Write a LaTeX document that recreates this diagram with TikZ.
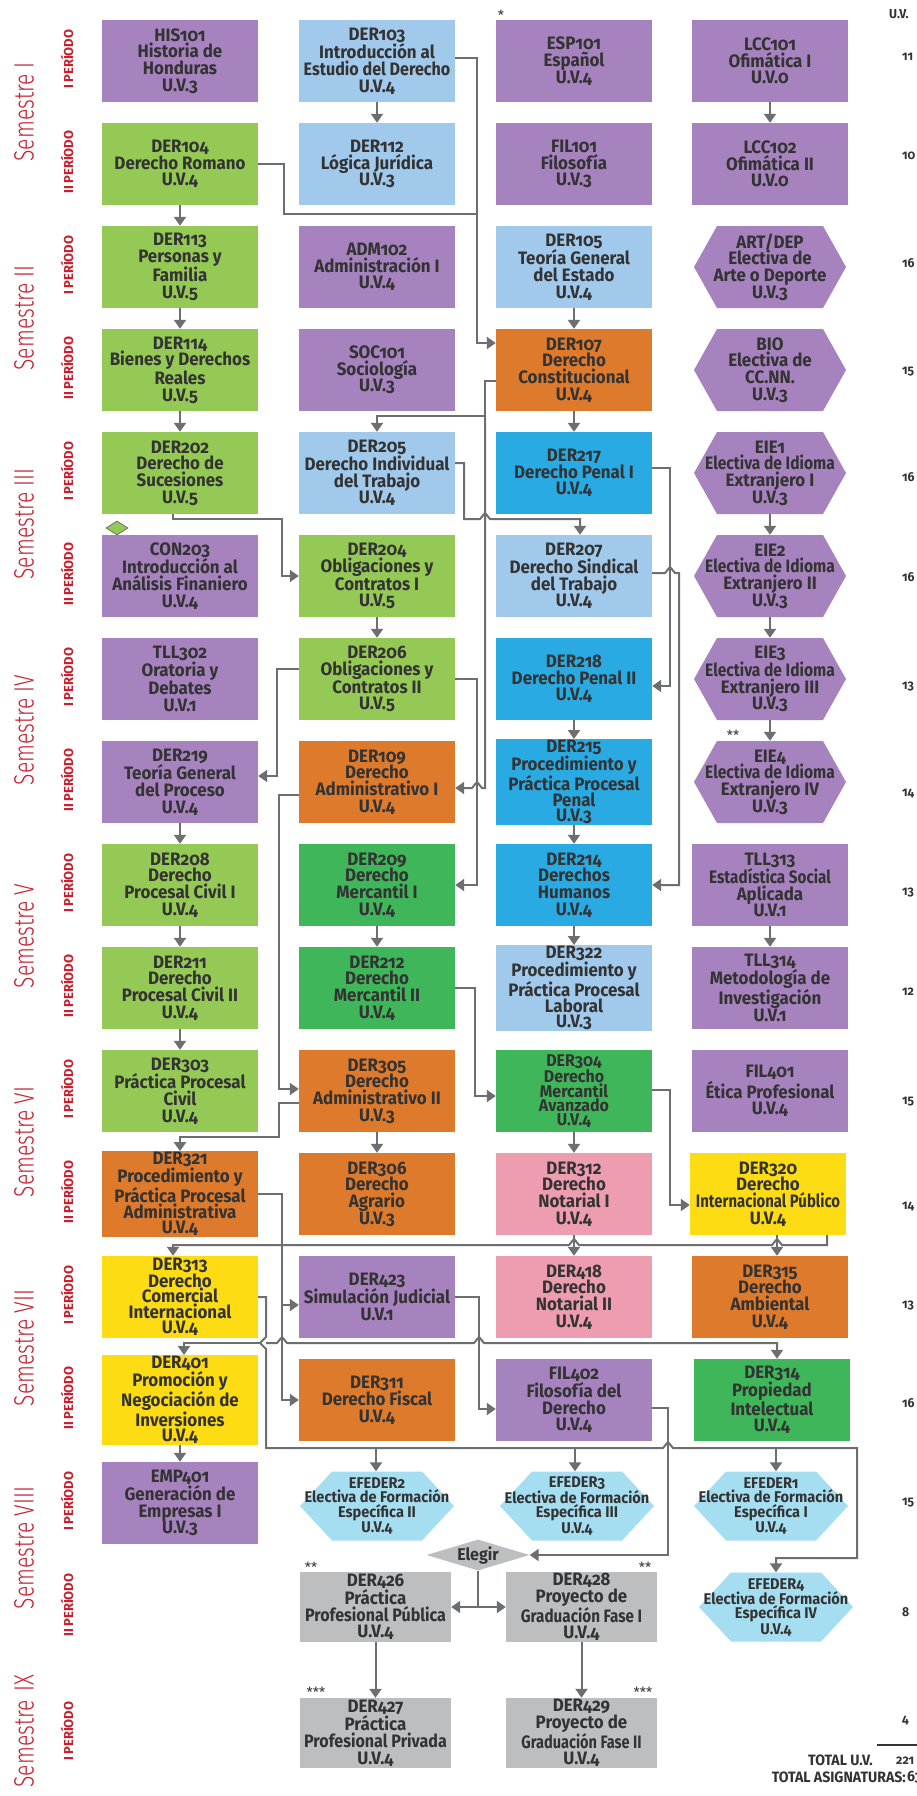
\documentclass[tikz,border=0pt]{standalone}
\usepackage{fontspec}
\usepackage{graphicx}
\usetikzlibrary{arrows.meta,shapes.geometric}
\newfontfamily\boxfont{Fira Sans}[FakeStretch=0.94,Numbers=OldStyle]
\newfontfamily\perfont{Fira Sans}
\newfontfamily\semfont{Fira Sans Light}[FakeStretch=0.75]
\newcommand{\narrowtext}[2]{\scalebox{#1}[1]{#2}}
\definecolor{lila}{HTML}{A682BE}
\definecolor{verdeclaro}{HTML}{95C955}
\definecolor{celeste}{HTML}{A0C9EC}
\definecolor{naranja}{HTML}{DE7A2B}
\definecolor{azul}{HTML}{2AAAE2}
\definecolor{verde}{HTML}{3FB65A}
\definecolor{rosa}{HTML}{EE9DB1}
\definecolor{amarillo}{HTML}{FEDC13}
\definecolor{gris}{HTML}{BDBEC0}
\definecolor{turquesa}{HTML}{A5DEF1}
\definecolor{linea}{HTML}{6D6E71}
\definecolor{rojo}{HTML}{C8202F}
\definecolor{texto}{HTML}{333333}
\tikzset{
  hexfill/.style 2 args={path picture={\fill[#1] ([xshift=#2]path picture bounding box.north west) -- ([xshift=-#2]path picture bounding box.north east) -- (path picture bounding box.east) -- ([xshift=-#2]path picture bounding box.south east) -- ([xshift=#2]path picture bounding box.south west) -- (path picture bounding box.west) -- cycle;}}
}
\begin{document}
\begin{tikzpicture}[x=1pt,y=-1pt,
    course/.style={fill=#1,minimum width=156pt,minimum height=82pt,inner sep=1pt,align=center,text=texto,font=\boxfont\bfseries\fontsize{18}{16.7}\selectfont},
    tight/.style={font=\boxfont\bfseries\fontsize{18}{15.5}\selectfont},
    hexa/.style={course=none,minimum width=152pt,hexfill={lila}{23pt}},
    efhex/.style={course=none,minimum width=154pt,minimum height=69pt,hexfill={turquesa}{32pt},font=\boxfont\bfseries\fontsize{15.5}{12.3}\selectfont},
    grisbox/.style={course=gris,minimum width=151pt,minimum height=70pt},
    semlabel/.style={rotate=90,inner sep=0pt,text=rojo,font=\semfont\fontsize{28}{28}\selectfont},
    perlabel/.style={rotate=90,inner sep=0pt,text=rojo,font=\perfont\bfseries\fontsize{13}{13}\selectfont},
    uvnum/.style={anchor=west,inner sep=0pt,text=texto,font=\boxfont\bfseries\fontsize{13}{13}\selectfont},
    note/.style={inner sep=0pt,text=texto,font=\perfont\fontsize{14}{14}\selectfont},
    link/.style={draw=linea,line width=2pt,-{Triangle[width=12pt,length=9pt]}},
    wire/.style={draw=linea,line width=2pt}]
  \path[use as bounding box,fill=white] (0,0) rectangle (916,1796);

  % Semester and period labels
  \foreach \y/\s in {112/I,318/II,524/III,730/IV,936/V,1142/VI,1348/VII,1548/VIII}
    \node[semlabel] (sem\s) at (24,\y) {Semestre \s};
  \node[semlabel] (semIX) at (24,1731) {Semestre\hspace{9pt}IX};
  \foreach \y/\p [count=\i] in {61/I,164/II,267/I,370/II,473/I,576/II,679/I,782/II,885/I,988/II,1091/I,1194/II,1297/I,1400/II,1503/I,1607/II,1733/I}
    \node[perlabel] (per\i) at (67,\y-2) {\p\,PERÍODO};

  % Row 1 and 2
  \node[course=lila] (his101) at (180,61) {HIS101\\Historia de\\Honduras\\U.V.3};
  \node[course=celeste] (der103) at (377,61) {DER103\\Introducción al\\\narrowtext{0.95}{Estudio del Derecho}\\U.V.4};
  \node[course=lila] (esp101) at (574,61) {ESP101\\Español\\U.V.4};
  \node[course=lila] (lcc101) at (770,61) {LCC101\\Ofimática I\\U.V.0};
  \node[course=verdeclaro] (der104) at (180,164) {DER104\\Derecho Romano\\U.V.4};
  \node[course=celeste] (der112) at (377,164) {DER112\\Lógica Jurídica\\U.V.3};
  \node[course=lila] (fil101) at (574,164) {FIL101\\Filosofía\\U.V.3};
  \node[course=lila] (lcc102) at (770,164) {LCC102\\Ofimática II\\U.V.0};
  % Row 3 and 4
  \node[course=verdeclaro] (der113) at (180,267) {DER113\\Personas y\\Familia\\U.V.5};
  \node[course=lila] (adm102) at (377,267) {ADM102\\Administración I\\U.V.4};
  \node[course=celeste] (der105) at (574,267) {DER105\\Teoría General\\del Estado\\U.V.4};
  \node[hexa] (artdep) at (770,267) {ART/DEP\\Electiva de\\Arte o Deporte\\U.V.3};
  \node[course=verdeclaro] (der114) at (180,370) {DER114\\Bienes y Derechos\\Reales\\U.V.5};
  \node[course=lila] (soc101) at (377,370) {SOC101\\Sociología\\U.V.3};
  \node[course=naranja] (der107) at (574,370) {DER107\\Derecho\\Constitucional\\U.V.4};
  \node[hexa] (bio) at (770,370) {BIO\\Electiva de\\CC.NN.\\U.V.3};
  % Row 5 and 6
  \node[course=verdeclaro] (der202) at (180,473) {DER202\\Derecho de\\Sucesiones\\U.V.5};
  \node[course=celeste] (der205) at (377,473) {DER205\\Derecho Individual\\del Trabajo\\U.V.4};
  \node[course=azul] (der217) at (574,473) {DER217\\Derecho Penal I\\U.V.4};
  \node[hexa] (eie1) at (770,473) {EIE1\\\narrowtext{0.92}{Electiva de Idioma}\\Extranjero I\\U.V.3};
  \node[course=lila] (con203) at (180,576) {CON203\\Introducción al\\Análisis Finaniero\\U.V.4};
  \node[course=verdeclaro] (der204) at (377,576) {DER204\\Obligaciones y\\Contratos I\\U.V.5};
  \node[course=celeste] (der207) at (574,576) {DER207\\Derecho Sindical\\del Trabajo\\U.V.4};
  \node[hexa] (eie2) at (770,576) {EIE2\\\narrowtext{0.92}{Electiva de Idioma}\\Extranjero II\\U.V.3};
  % Row 7 and 8
  \node[course=lila] (tll302) at (180,679) {TLL302\\Oratoria y\\Debates\\U.V.1};
  \node[course=verdeclaro] (der206) at (377,679) {DER206\\Obligaciones y\\Contratos II\\U.V.5};
  \node[course=azul] (der218) at (574,679) {DER218\\Derecho Penal II\\U.V.4};
  \node[hexa] (eie3) at (770,679) {EIE3\\\narrowtext{0.92}{Electiva de Idioma}\\Extranjero III\\U.V.3};
  \node[course=lila] (der219) at (180,782) {DER219\\Teoría General\\del Proceso\\U.V.4};
  \node[course=naranja] (der109) at (377,782) {DER109\\Derecho\\Administrativo I\\U.V.4};
  \node[course=azul,tight] (der215) at (574,782) {DER215\\Procedimiento y\\Práctica Procesal\\Penal\\U.V.3};
  \node[hexa] (eie4) at (770,782) {EIE4\\\narrowtext{0.92}{Electiva de Idioma}\\Extranjero IV\\U.V.3};
  % Row 9 and 10
  \node[course=verdeclaro] (der208) at (180,885) {DER208\\Derecho\\Procesal Civil I\\U.V.4};
  \node[course=verde] (der209) at (377,885) {DER209\\Derecho\\Mercantil I\\U.V.4};
  \node[course=azul] (der214) at (574,885) {DER214\\Derechos\\Humanos\\U.V.4};
  \node[course=lila] (tll313) at (770,885) {TLL313\\\narrowtext{0.9}{Estadística Social}\\Aplicada\\U.V.1};
  \node[course=verdeclaro] (der211) at (180,988) {DER211\\Derecho\\Procesal Civil II\\U.V.4};
  \node[course=verde] (der212) at (377,988) {DER212\\Derecho\\Mercantil II\\U.V.4};
  \node[course=celeste,tight] (der322) at (574,988) {DER322\\Procedimiento y\\Práctica Procesal\\Laboral\\U.V.3};
  \node[course=lila] (tll314) at (770,988) {TLL314\\Metodología de\\Investigación\\U.V.1};
  % Row 11 and 12
  \node[course=verdeclaro] (der303) at (180,1091) {DER303\\Práctica Procesal\\Civil\\U.V.4};
  \node[course=naranja] (der305) at (377,1091) {DER305\\Derecho\\Administrativo II\\U.V.3};
  \node[course=verde,font=\boxfont\bfseries\fontsize{17}{14}\selectfont] (der304) at (574,1091) {DER304\\Derecho\\Mercantil\\Avanzado\\U.V.4};
  \node[course=lila] (fil401) at (770,1091) {FIL401\\Ética Profesional\\U.V.4};
  \node[course=naranja,tight] (der321) at (180,1194) {DER321\\Procedimiento y\\Práctica Procesal\\Administrativa\\U.V.4};
  \node[course=naranja] (der306) at (377,1194) {DER306\\Derecho\\Agrario\\U.V.3};
  \node[course=rosa] (der312) at (574,1194) {DER312\\Derecho\\Notarial I\\U.V.4};
  \node[course=amarillo] (der320) at (768,1194) {DER320\\Derecho\\\narrowtext{0.88}{Internacional Público}\\U.V.4};
  % Row 13 and 14
  \node[course=amarillo,tight] (der313) at (180,1297) {DER313\\Derecho\\Comercial\\Internacional\\U.V.4};
  \node[course=lila] (der423) at (377,1297) {DER423\\Simulación Judicial\\U.V.1};
  \node[course=rosa] (der418) at (574,1297) {DER418\\Derecho\\Notarial II\\U.V.4};
  \node[course=naranja] (der315) at (770,1297) {DER315\\Derecho\\Ambiental\\U.V.4};
  \node[course=amarillo,tight] (der401) at (180,1400) {DER401\\Promoción y\\Negociación de\\Inversiones\\U.V.4};
  \node[course=naranja] (der311) at (377,1400) {DER311\\Derecho Fiscal\\U.V.4};
  \node[course=lila] (fil402) at (574,1400) {FIL402\\Filosofía del\\Derecho\\U.V.4};
  \node[course=verde] (der314) at (772,1400) {DER314\\Propiedad\\Intelectual\\U.V.4};
  % Row 15 to 17
  \node[course=lila] (emp401) at (180,1503) {EMP401\\Generación de\\Empresas I\\U.V.3};
  \node[efhex] (efeder2) at (377,1506) {EFEDER2\\Electiva de Formación\\Específica II\\U.V.4};
  \node[efhex] (efeder3) at (577,1506) {EFEDER3\\Electiva de Formación\\Específica III\\U.V.4};
  \node[efhex] (efeder1) at (771,1506) {EFEDER1\\Electiva de Formación\\Específica I\\U.V.4};
  \node[diamond,fill=gris,aspect=3.3,inner sep=0pt,minimum width=103pt,minimum height=31pt,text=texto,font=\boxfont\bfseries\fontsize{17}{17}\selectfont] (elegir) at (478,1555) {Elegir};
  \node[grisbox] (der426) at (375.5,1607) {DER426\\Práctica\\\narrowtext{0.95}{Profesional Pública}\\U.V.4};
  \node[grisbox] (der428) at (581.5,1607) {DER428\\Proyecto de\\\narrowtext{0.9}{Graduación Fase I}\\U.V.4};
  \node[efhex] (efeder4) at (776,1607) {EFEDER4\\Electiva de Formación\\Específica IV\\U.V.4};
  \node[grisbox] (der427) at (375.5,1733) {DER427\\Práctica\\\narrowtext{0.95}{Profesional Privada}\\U.V.4};
  \node[grisbox] (der429) at (581.5,1733) {DER429\\Proyecto de\\\narrowtext{0.86}{Graduación Fase II}\\U.V.4};

  % Marks
  \node[diamond,fill=verdeclaro,draw=linea,line width=0.8pt,aspect=1.6,inner sep=0pt,minimum width=22pt,minimum height=14pt] (mark203) at (117,528) {};
  \node[note] (star1) at (501,15) {*};
  \node[note] (star2) at (733,735) {**};
  \node[note] (star3) at (311,1567) {**};
  \node[note] (star4) at (645,1567) {**};
  \node[note] (star5) at (316,1692) {***};
  \node[note] (star6) at (643,1692) {***};

  % U.V. per period
  \node[uvnum] (uvhead) at (889,14) {U.V.};
  \foreach \y/\n [count=\i] in {57/11,156/10,263/16,372/15,477/16,577/16,687/13,793/14,893/13,992/12,1102/15,1206/14,1306/13,1403/16,1503/15,1612/8,1720/4}
    \node[uvnum] (uv\i) at (902,\y) {\n};
  \draw[line width=2pt,texto] (877,1745) -- (920,1745);
  \node[anchor=east,inner sep=0pt,text=texto,font=\boxfont\bfseries\fontsize{15}{15}\selectfont] (totuv) at (873,1760) {TOTAL U.V.};
  \node[uvnum] (sumuv) at (896,1761) {221};
  \node[anchor=east,inner sep=0pt,text=texto,font=\boxfont\bfseries\fontsize{15}{15}\selectfont] (totas) at (906,1777) {TOTAL ASIGNATURAS:};
  \node[anchor=west,inner sep=0pt,text=texto,font=\boxfont\bfseries\fontsize{15}{15}\selectfont] (sumas) at (907,1777) {63};

  % Straight prerequisites
  \foreach \a/\b in {der103/der112,lcc101/lcc102,der104/der113,der113/der114,der114/der202,der105/der107,der107/der217,eie1/eie2,eie2/eie3,eie3/eie4,der204/der206,der218/der215,der215/der214,der219/der208,der208/der211,der211/der303,der209/der212,der214/der322,tll313/tll314,der305/der306,der304/der312,der312/der418,der401/emp401,der426/der427,der428/der429}
    \draw[link] (\a) -- (\b);

  % DER103, DER104 to DER107
  \draw[link] ([yshift=3pt]der103.east) -- (477,58) -- (477,343) -- (der107.west |- 0,343);
  \draw[wire] (der104.east) -| (284,214) -- (477,214);
  % DER107 to DER205 and DER109
  \draw[link] ([yshift=-11pt]der107.west) -- (485,381) -- (485,416) -| (der205.north);
  \draw[link] (485,416) -- (485,788) -- (482,788) -- (477,782) -- (472,788) -- (der109.east |- 0,788);
  % DER205 to DER207
  \draw[link] ([yshift=10pt]der205.east) -- (464,463) -- (464,519) -- (480,519) -- (485,513) -- (490,519) -- (580,519) -- (der207.north -| 580,0);
  % DER217 to DER218, DER207 to DER214
  \draw[link] ([yshift=5pt]der217.east) -- (670,468) -- (670,686) -- (der218.east |- 0,686);
  \draw[link] ([yshift=3pt]der207.east) -- (665,573) -- (670,567) -- (675,573) -- (679,573) -- (679,885) -- (der214.east);
  % DER202 to DER204
  \draw[link] ([xshift=-7pt]der202.south) -- (173,519) -- (282,519) -- (282,576) -- (der204.west);
  % DER206 to DER219 and DER209
  \draw[link] ([yshift=10pt]der206.west) -- (277,669) -- (277,776) -- (der219.east |- 0,776);
  \draw[link] (der206.east) -- (477,679) -- (477,885) -- (der209.east);
  % DER109 to DER305, DER212 to DER304
  \draw[link] ([yshift=-13pt]der109.west) -- (279,795) -- (279,1089) -- (der305.west |- 0,1089);
  \draw[link] (der212.east) -- (475,988) -- (475,1096) -- (der304.west |- 0,1096);
  % DER305 to DER321, DER304 to DER320
  \draw[link] ([yshift=-12pt]der305.west) -- (279,1103) -- (279,1137) -- (180,1137) -- (der321.north);
  \draw[link] ([yshift=1pt]der304.east) -- (670,1090) -- (670,1205) -- (der320.west |- 0,1205);
  % DER320 to DER313, DER315
  \draw[link] ([xshift=59pt]der320.south) -- (827,1245) -- (782,1245) -- (777,1239) -- (772,1245) -- (579,1245) -- (574,1239) -- (569,1245) -- (173,1245) -- (der313.north -| 173,0);
  \draw[link] ([xshift=9pt]der320.south) -- (der315.north -| 777,0);
  % DER321 to DER423 and DER311
  \draw[link] (der321.east) -- (282,1194) -- (282,1400) -- (der311.west);
  \draw[link] (282,1305) -- (der423.west |- 0,1305);
  % DER313 to DER401, DER314 and electives
  \draw[link] (der313.east) -- (266,1297) -- (266,1337) -- (260,1343) -- (266,1349) -- (266,1448) -- (663,1448) -- (668,1442) -- (673,1448) -- (857,1448) -- (857,1558) -- (776,1558) -- (efeder4.north -| 776,0);
  \draw[link] (376,1448) -- (efeder2.north -| 376,0);
  \draw[link] (575,1448) -- (efeder3.north -| 575,0);
  \draw[link] (776,1448) -- (efeder1.north -| 776,0);
  \draw[link] (260,1343) -- (184,1343) -- (der401.north -| 184,0);
  \draw[link] (266,1343) -- (277,1343) -- (282,1337) -- (287,1343) -- (474,1343) -- (479,1337) -- (484,1343) -- (777,1343) -- (der314.north -| 777,0);
  % DER423 to FIL402, FIL402 to Elegir
  \draw[link] (der423.east) -- (479,1297) -- (479,1409) -- (fil402.west |- 0,1409);
  \draw[link] ([yshift=-8pt]fil402.east) -- (668,1408) -- (668,1555) -- (elegir.east);
  % Elegir
  \draw[wire] (elegir.south) -- (478,1607);
  \draw[link] (478,1607) -- (der426.east);
  \draw[link] (478,1607) -- (der428.west);
\end{tikzpicture}
\end{document}
